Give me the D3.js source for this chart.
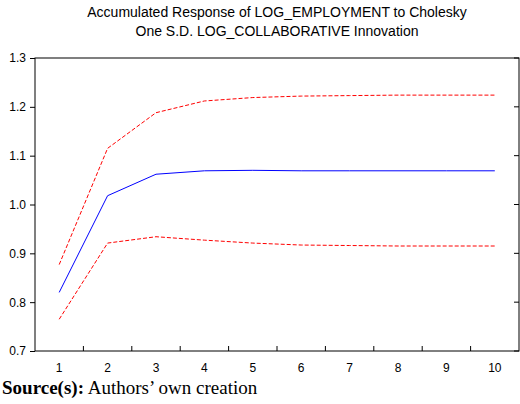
<!DOCTYPE html><html><head><meta charset="utf-8"><script src="https://cdn.jsdelivr.net/npm/d3@7"></script>
<style>body{margin:0;background:#fff}</style></head><body><svg id="c" width="520" height="404"></svg>
<script>
const periods=[1,2,3,4,5,6,7,8,9,10];
const response=[0.820,1.018,1.062,1.069,1.070,1.069,1.069,1.069,1.069,1.069];
const upper=[0.877,1.115,1.188,1.212,1.219,1.222,1.223,1.224,1.224,1.224];
const lower=[0.765,0.921,0.934,0.927,0.921,0.917,0.916,0.915,0.915,0.915];
const yTicks=[0.7,0.8,0.9,1.0,1.1,1.2,1.3];
const svg=d3.select("#c");
const L=35,R=519,T=58,B=351;
const x=d3.scaleBand().domain(periods).range([L,R]);
const cx=d=>x(d)+x.bandwidth()/2;
const y=d3.scaleLinear().domain([0.7,1.3]).range([B,T]);
svg.append("rect").attr("x",L).attr("y",T).attr("width",R-L).attr("height",B-T).attr("fill","none").attr("stroke","#000").attr("stroke-width",1);
const ya=svg.append("g").attr("transform",`translate(${L},0)`).call(d3.axisLeft(y).tickValues(yTicks).tickFormat(d3.format(".1f")).tickSize(5).tickSizeOuter(0));
ya.select(".domain").remove();
ya.selectAll("text").attr("font-family","Arial, Liberation Sans").attr("font-size",12).attr("dx",-1);
svg.append("g").selectAll("line").data(yTicks).join("line").attr("x1",R).attr("x2",R-5).attr("y1",d=>y(d)).attr("y2",d=>y(d)).attr("stroke","#000");
const xa=svg.append("g").attr("transform",`translate(0,${B})`).call(d3.axisBottom(x).tickSize(0).tickPadding(12));
xa.select(".domain").remove();
xa.selectAll("text").attr("font-family","Arial, Liberation Sans").attr("font-size",12);
svg.append("g").selectAll("line").data(periods.slice(1)).join("line").attr("x1",d=>x(d)).attr("x2",d=>x(d)).attr("y1",B).attr("y2",B-5).attr("stroke","#000");
const line=d3.line().x((d,i)=>cx(periods[i])).y(d=>y(d));
svg.append("path").attr("d",line(upper)).attr("fill","none").attr("stroke","#ff0000").attr("stroke-dasharray","4,2");
svg.append("path").attr("d",line(lower)).attr("fill","none").attr("stroke","#ff0000").attr("stroke-dasharray","4,2");
svg.append("path").attr("d",line(response)).attr("fill","none").attr("stroke","#0000ff");
const t=svg.append("g").attr("font-family","Arial, Liberation Sans").attr("font-size",14).attr("text-anchor","middle");
t.append("text").attr("x",277).attr("y",17).text("Accumulated Response of LOG_EMPLOYMENT to Cholesky");
t.append("text").attr("x",277).attr("y",36).text("One S.D. LOG_COLLABORATIVE Innovation");
const s=svg.append("text").attr("x",2).attr("y",394).attr("font-family","Liberation Serif, Times New Roman").attr("font-size",19);
s.append("tspan").attr("font-weight","bold").text("Source(s):");
s.append("tspan").text(" Authors\u2019 own creation");
</script></body></html>
